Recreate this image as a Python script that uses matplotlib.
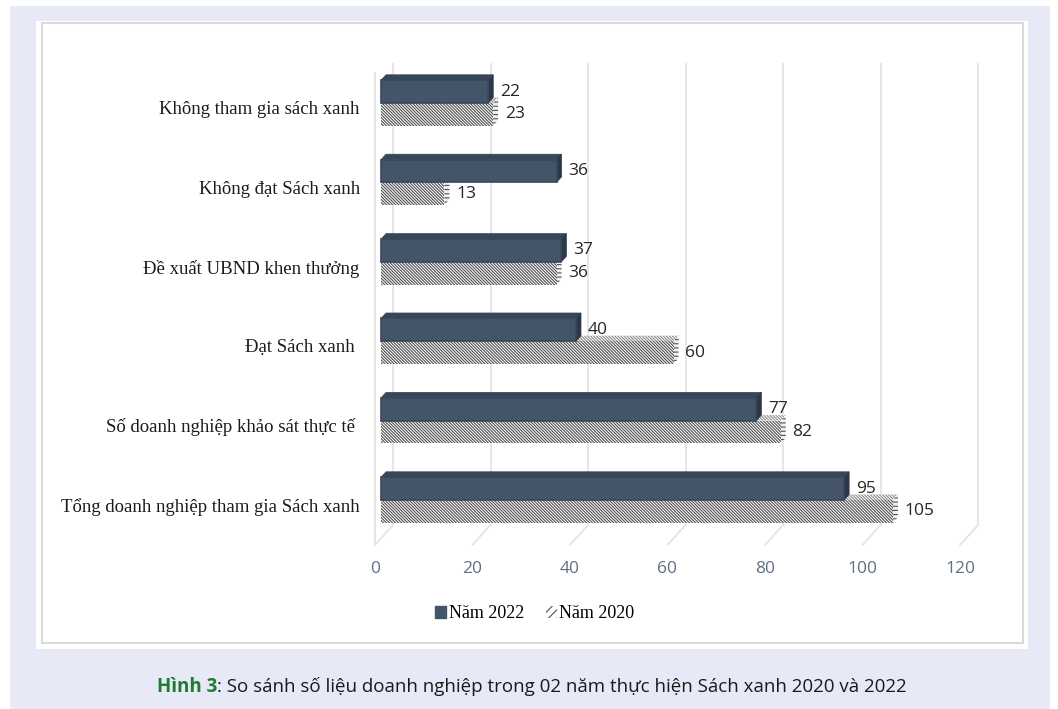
import matplotlib.pyplot as plt
from matplotlib.patches import Rectangle, Polygon, Patch, ConnectionPatch

# chart data (top to bottom as shown)
categories = [
    "Không tham gia sách xanh",
    "Không đạt Sách xanh",
    "Đề xuất UBND khen thưởng",
    "Đạt Sách xanh ",
    "Số doanh nghiệp khảo sát thực tế ",
    "Tổng doanh nghiệp tham gia Sách xanh",
]
values_2022 = [22, 36, 37, 40, 77, 95]
values_2020 = [23, 13, 36, 60, 82, 105]
series_names = ["Năm 2022", "Năm 2020"]
x_ticks = [0, 20, 40, 60, 80, 100, 120]
caption_tag = "Hình 3"
caption_text = ": So sánh số liệu doanh nghiệp trong 02 năm thực hiện Sách xanh 2020 và 2022"

plt.rcParams["hatch.linewidth"] = 0.8

W, H = 1058, 709
DARK = "#445469"
DARK_TOP = "#37465a"
DARK_SIDE = "#2b3848"
HATCH_COL = "#505050"
GRID = "#e4e4e4"
TICK_COL = "#5f6f85"
SERIF = "Liberation Serif"
SANS = "Open Sans"

fig = plt.figure(figsize=(W / 100, H / 100), dpi=100)

# page background / panel
bg = fig.add_axes([0, 0, 1, 1])
bg.set_xlim(0, W)
bg.set_ylim(H, 0)
bg.axis("off")
bg.add_patch(Rectangle((10, 6), 1040, H - 6, facecolor="#e7eaf6", edgecolor="none"))
bg.add_patch(Rectangle((36, 21), 992, 628, facecolor="white", edgecolor="none"))
bg.add_patch(Rectangle((42, 23), 981, 620, facecolor="none", edgecolor="#dadada", linewidth=1.5))

# main axes: bar front plane, 1 x-unit = 4.875 px, 1 category = 79.4 px
PX_X, PX_Y = 4.875, 79.4
X0, Y0 = 381, 103
xlim = (-3, 125)
ylim = (5.75, -0.75)
left = X0 + xlim[0] * PX_X
right = X0 + xlim[1] * PX_X
top = Y0 + ylim[1] * PX_Y
bottom = Y0 + ylim[0] * PX_Y
ax = fig.add_axes([left / W, 1 - bottom / H, (right - left) / W, (bottom - top) / H])
ax.set_xlim(*xlim)
ax.set_ylim(*ylim)
ax.axis("off")
ax.patch.set_alpha(0)

# 3D offsets (data units)
fdx, fdy = -6 / PX_X, 6.7 / PX_Y        # front plane of the chart box
bdx, bdy = 12 / PX_X, -13.3 / PX_Y      # back wall
ddx, ddy = 5 / PX_X, -5.5 / PX_Y        # bar depth
y_floor = 5.482
y_top = -0.49
bar_h = 0.286

# back wall gridlines + floor diagonals
for v in x_ticks:
    ax.plot([v + bdx, v + bdx], [y_top, y_floor + bdy], color=GRID, lw=1.3, zorder=1)
    con = ConnectionPatch((v + fdx, y_floor + fdy), (v + bdx, y_floor + bdy),
                          coordsA=ax.transData, coordsB=ax.transData,
                          color=GRID, lw=1.3, zorder=1)
    ax.add_artist(con)
    ax.annotate(str(v), (v + fdx, y_floor + fdy), xytext=(0, -17), textcoords="offset points",
                ha="center", va="center", fontsize=12.5, family=SANS, color=TICK_COL,
                annotation_clip=False)
# left wall front edge
ax.plot([fdx, fdx], [y_top - bdy - 0.05, y_floor + fdy], color=GRID, lw=1.3, zorder=1)


def draw_bar(y0, v, hatched):
    if hatched:
        front = dict(facecolor="white", edgecolor=HATCH_COL, hatch="\\" * 11, linewidth=0)
        topf = dict(facecolor="white", edgecolor="#8a8a8a", hatch="\\" * 11, linewidth=0)
        side = dict(facecolor="#f0f0f0", edgecolor="#505050", hatch="----", linewidth=0)
    else:
        front = dict(facecolor=DARK, edgecolor="#394759", linewidth=1.2)
        topf = dict(facecolor=DARK_TOP, edgecolor=DARK_TOP, linewidth=0.5)
        side = dict(facecolor=DARK_SIDE, edgecolor=DARK_SIDE, linewidth=0.5)
    z = 3 if not hatched else 2
    ax.add_patch(Polygon([(0, y0), (v, y0), (v + ddx, y0 + ddy), (ddx, y0 + ddy)], zorder=z, **topf))
    ax.add_patch(Polygon([(v, y0), (v + ddx, y0 + ddy), (v + ddx, y0 + bar_h + ddy), (v, y0 + bar_h)],
                         zorder=z, **side))
    ax.add_patch(Rectangle((0, y0), v, bar_h, zorder=z, **front))
    ax.text(v + 2.4, y0 + bar_h / 2, str(v), ha="left", va="center", fontsize=12.5,
            family=SANS, color="#262626", zorder=5)


for i, (v22, v20) in enumerate(zip(values_2022, values_2020)):
    draw_bar(i, v20, True)
    draw_bar(i - bar_h, v22, False)
    ax.annotate(categories[i], (fdx, i + fdy), xytext=(-11, 0), textcoords="offset points",
                ha="right", va="center", fontsize=13.5, family=SERIF, color="#1a1a1a",
                annotation_clip=False)

# legend
handles = [
    Patch(facecolor=DARK, edgecolor=DARK, label=series_names[0]),
    Patch(facecolor="white", edgecolor=HATCH_COL, hatch="////", linewidth=0, label=series_names[1]),
]
fig.legend(handles=handles, loc="center", bbox_to_anchor=(535 / W, 1 - 614 / H), ncol=2,
           frameon=False, handlelength=0.6, handleheight=0.6, handletextpad=0.15,
           columnspacing=1.2, prop={"family": SERIF, "size": 13})

# caption
renderer = fig.canvas.get_renderer()
cap_y = 1 - 692 / H
t1 = fig.text(0, cap_y, caption_tag, ha="left", va="baseline", fontsize=13.5, family=SANS,
              weight="bold", color="#1e7b34")
t2 = fig.text(0, cap_y, caption_text, ha="left", va="baseline", fontsize=13.5, family=SANS,
              color="#1a1a1a")
w1 = t1.get_window_extent(renderer).width
w2 = t2.get_window_extent(renderer).width
x_start = 532 - (w1 + w2) / 2
t1.set_x(x_start / W)
t2.set_x((x_start + w1) / W)

fig.savefig("out.png", dpi=100)
